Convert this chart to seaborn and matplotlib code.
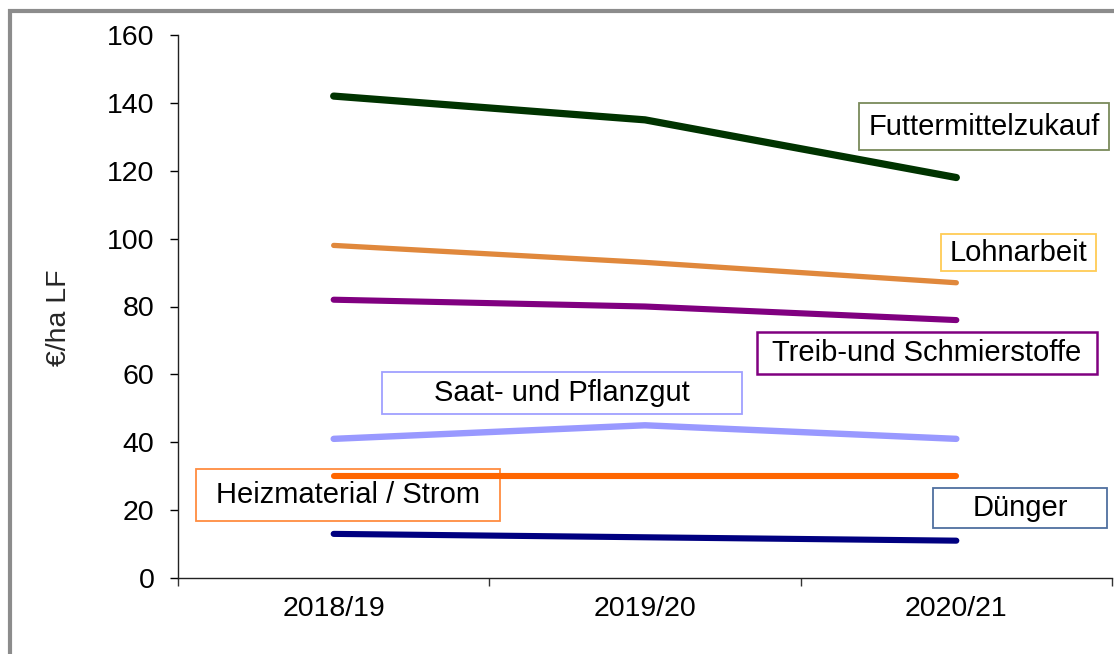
import pandas as pd
import matplotlib.pyplot as plt
import seaborn as sns
from matplotlib.patches import Rectangle
from matplotlib.ticker import FixedLocator

# chart data
years = ["2018/19", "2019/20", "2020/21"]
futtermittel = [142, 135, 118]
lohnarbeit = [98, 93, 87]
treibstoffe = [82, 80, 76]
saatgut = [41, 45, 41]
heizmaterial = [30, 30, 30]
duenger = [13, 12, 11]

series_names = ["Futtermittelzukauf", "Lohnarbeit", "Treib-und Schmierstoffe",
                "Saat- und Pflanzgut", "Heizmaterial / Strom", "Dünger"]
series_values = [futtermittel, lohnarbeit, treibstoffe, saatgut, heizmaterial, duenger]

# styling per series: line colour, line width, box edge colour
line_colors = ["#003300", "#E0883C", "#800080", "#9999FF", "#FF6600", "#000080"]
line_widths = [5.2, 3.8, 4.4, 4.6, 4.4, 4.4]
box_colors = ["#7A8A5A", "#FFCC55", "#800080", "#A0A0FF", "#FF8C40", "#4F6F9F"]
box_widths = [1.3, 1.3, 1.8, 1.3, 1.3, 1.3]
# label boxes: centre (x, y) and size (w, h) in data units
box_layout = [
    (2.089, 133.0, 0.803, 13.85),
    (2.200, 95.9, 0.498, 10.9),
    (1.906, 66.3, 1.092, 12.4),
    (0.733, 54.5, 1.156, 12.4),
    (0.046, 24.5, 0.976, 15.3),
    (2.205, 20.6, 0.559, 11.8),
]

sns.set_style("white")
plt.rcParams['font.family'] = ['Liberation Sans', 'DejaVu Sans']
FS = 21

fig = plt.figure(figsize=(11.14, 6.54), dpi=100)
ax = fig.add_axes([178 / 1114, 1 - 578 / 654, 934 / 1114, 543 / 654])

for name, (cx, cy, w, h), ec, elw in zip(series_names, box_layout, box_colors, box_widths):
    ax.add_patch(Rectangle((cx - w / 2, cy - h / 2), w, h, facecolor="white",
                           edgecolor=ec, linewidth=elw, zorder=1, clip_on=False))
    ax.text(cx, cy, name, ha="center", va="center", fontsize=FS, color="black",
            zorder=4, clip_on=False)

for name, vals, col, lw in zip(series_names, series_values, line_colors, line_widths):
    df = pd.DataFrame({"Jahr": years, "Wert": vals})
    sns.lineplot(data=df, x="Jahr", y="Wert", color=col, linewidth=lw, ax=ax,
                 solid_capstyle="round", sort=False, zorder=2)

ax.set_xlim(-0.5, 2.5)
ax.set_ylim(0, 160)
ax.set_yticks(range(0, 161, 20))
ax.set_xticks(range(len(years)))
ax.set_xticklabels(years)
ax.xaxis.set_minor_locator(FixedLocator([-0.5, 0.5, 1.5, 2.5]))
ax.tick_params(axis="x", which="major", length=0, pad=13, labelsize=FS - 0.5, colors="black")
ax.tick_params(axis="x", which="minor", length=6, width=1, direction="out",
               color="#333333", bottom=True)
ax.tick_params(axis="y", length=6, width=1, direction="out", pad=11, labelsize=FS - 0.5,
               left=True, colors="black")
ax.set_xlabel("")
ax.set_ylabel("€/ha LF", fontsize=FS - 0.5)
ax.yaxis.set_label_coords(-0.114, 0.48)

for side in ["top", "right"]:
    ax.spines[side].set_visible(False)
for side in ["left", "bottom"]:
    ax.spines[side].set_color("#222222")
    ax.spines[side].set_linewidth(1)

# grey frame around the picture (only top/left edges are visible)
fig.patches.append(Rectangle((10 / 1114, -0.1), 1.2, 1.1 - 11 / 654,
                             transform=fig.transFigure, fill=False,
                             edgecolor="#8C8C8C", linewidth=3, zorder=0))

fig.savefig("out.png", dpi=100)
